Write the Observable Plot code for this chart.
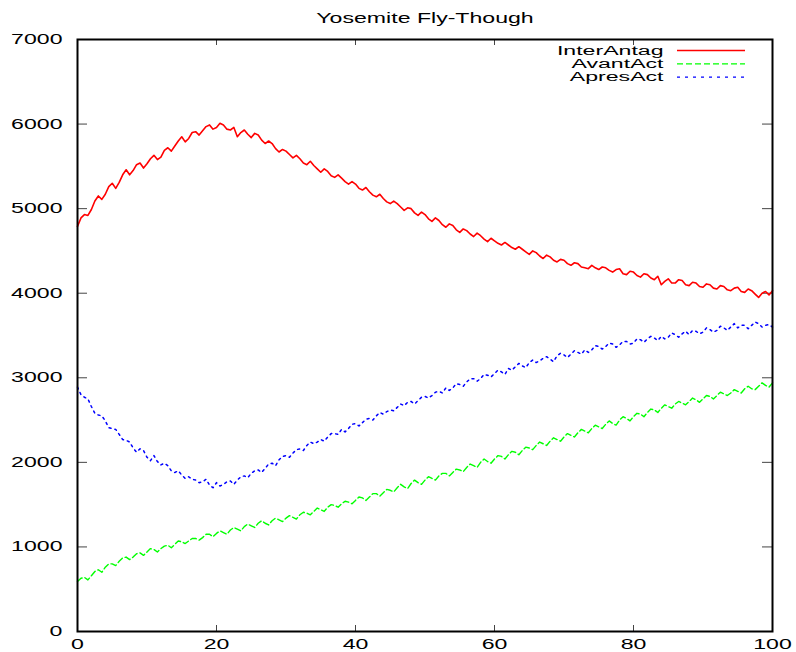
<!DOCTYPE html>
<html>
<head>
<meta charset="utf-8">
<script src="https://cdn.jsdelivr.net/npm/d3@7"></script>
<script src="https://cdn.jsdelivr.net/npm/@observablehq/plot@0.6"></script>
<style>
  body { margin: 0; background: #fff; }
  #chart svg { display: block; }
</style>
</head>
<body>
<div id="chart"></div>
<script>
const title = "Yosemite Fly-Though";
const seriesNames = ["InterAntag", "AvantAct", "ApresAct"];
const seriesColors = ["#ff0000", "#00ff00", "#0000ff"];
const seriesDash = [null, "6,3", "2,4"];
const seriesWidth = [1.6, 1.4, 1.5];

// sample positions along the x axis (whole units 0 .. 100)
const xValues = [
  0,1,2,3,4,5,6,7,8,9,10,11,12,13,14,15,16,17,18,19,
  20,21,22,23,24,25,26,27,28,29,30,31,32,33,34,35,36,37,38,39,
  40,41,42,43,44,45,46,47,48,49,50,51,52,53,54,55,56,57,58,59,
  60,61,62,63,64,65,66,67,68,69,70,71,72,73,74,75,76,77,78,79,
  80,81,82,83,84,85,86,87,88,89,90,91,92,93,94,95,96,97,98,99,100
];
// half-unit positions 0.5 .. 99.5
const xMid = xValues.slice(0, 100).map(x => x + 0.5);

// InterAntag at whole units
const interAntag = [
  4790, 4930, 4990, 5150, 5170, 5300, 5310, 5460, 5450, 5540,
  5530, 5630, 5610, 5720, 5740, 5850, 5830, 5910, 5920, 5990,
  5960, 5990, 5930, 5850, 5930, 5840, 5870, 5770, 5770, 5670,
  5680, 5600, 5590, 5520, 5510, 5430, 5440, 5370, 5360, 5290,
  5290, 5220, 5200, 5140, 5120, 5060, 5060, 4980, 5000, 4920,
  4930, 4850, 4860, 4780, 4800, 4720, 4740, 4670, 4680, 4610,
  4620, 4570, 4570, 4520, 4520, 4460, 4480, 4410, 4430, 4370,
  4390, 4330, 4350, 4300, 4330, 4280, 4300, 4250, 4290, 4220,
  4250, 4190, 4220, 4160, 4100, 4170, 4120, 4150, 4090, 4120,
  4070, 4100, 4050, 4080, 4030, 4070, 4010, 4030, 3950, 4020,
  4030
];
// InterAntag at half units
const interAntagMid = [
  4890, 4920, 5090, 5110, 5260, 5240, 5400, 5400, 5520, 5480,
  5590, 5580, 5690, 5680, 5800, 5790, 5900, 5870, 5970, 5940,
  6010, 5940, 5960, 5900, 5880, 5890, 5810, 5800, 5710, 5700,
  5640, 5630, 5540, 5560, 5470, 5470, 5390, 5400, 5320, 5320,
  5240, 5250, 5160, 5170, 5080, 5090, 5020, 5010, 4950, 4960,
  4880, 4890, 4810, 4820, 4750, 4760, 4700, 4710, 4640, 4650,
  4590, 4600, 4540, 4550, 4490, 4500, 4440, 4450, 4390, 4400,
  4350, 4360, 4310, 4290, 4300, 4310, 4270, 4280, 4230, 4260,
  4210, 4230, 4180, 4200, 4140, 4120, 4160, 4100, 4130, 4080,
  4110, 4060, 4090, 4040, 4060, 4020, 4050, 3990, 4000, 3980
];

// AvantAct at whole units
const avantAct = [
  590, 640, 660, 730, 760, 800, 830, 880, 880, 930,
  940, 970, 980, 1020, 1030, 1060, 1070, 1100, 1110, 1150,
  1160, 1170, 1200, 1210, 1240, 1250, 1280, 1280, 1310, 1320,
  1340, 1350, 1380, 1400, 1420, 1440, 1470, 1490, 1510, 1530,
  1550, 1580, 1590, 1630, 1640, 1670, 1700, 1710, 1750, 1760,
  1790, 1810, 1840, 1870, 1880, 1910, 1940, 1960, 2000, 2010,
  2040, 2070, 2090, 2120, 2140, 2170, 2200, 2220, 2250, 2270,
  2300, 2320, 2350, 2370, 2400, 2420, 2450, 2460, 2500, 2520,
  2540, 2570, 2590, 2620, 2640, 2660, 2690, 2700, 2720, 2740,
  2750, 2780, 2790, 2810, 2820, 2840, 2870, 2870, 2900, 2910,
  2940
];
// AvantAct at half units
const avantActMid = [
  630, 610, 710, 700, 800, 780, 870, 850, 920, 900,
  980, 940, 1010, 990, 1070, 1040, 1100, 1080, 1150, 1120,
  1190, 1150, 1230, 1190, 1270, 1230, 1310, 1260, 1340, 1300,
  1370, 1330, 1410, 1380, 1460, 1420, 1500, 1470, 1540, 1510,
  1590, 1550, 1630, 1600, 1680, 1650, 1740, 1690, 1790, 1740,
  1830, 1790, 1870, 1840, 1920, 1890, 1980, 1940, 2040, 1990,
  2080, 2040, 2130, 2090, 2180, 2150, 2240, 2200, 2290, 2250,
  2340, 2300, 2390, 2350, 2440, 2400, 2490, 2440, 2540, 2490,
  2580, 2540, 2630, 2590, 2680, 2640, 2720, 2680, 2760, 2710,
  2790, 2750, 2830, 2790, 2860, 2820, 2900, 2860, 2940, 2890
];

// ApresAct at whole units
const apresAct = [
  2890, 2770, 2660, 2560, 2490, 2400, 2330, 2260, 2170, 2160,
  2060, 2080, 1970, 1960, 1880, 1850, 1830, 1790, 1770, 1730,
  1760, 1740, 1780, 1790, 1840, 1870, 1910, 1930, 1990, 2030,
  2080, 2110, 2160, 2200, 2220, 2270, 2300, 2340, 2390, 2400,
  2460, 2470, 2520, 2550, 2570, 2620, 2650, 2670, 2720, 2730,
  2780, 2790, 2840, 2880, 2880, 2920, 2950, 2990, 2990, 3030,
  3050, 3070, 3110, 3130, 3140, 3180, 3180, 3230, 3220, 3260,
  3270, 3280, 3300, 3330, 3330, 3370, 3370, 3400, 3390, 3430,
  3410, 3450, 3460, 3470, 3490, 3480, 3510, 3520, 3510, 3550,
  3540, 3570, 3560, 3590, 3600, 3590, 3620, 3620, 3640, 3620,
  3600
];
// ApresAct at half units
const apresActMid = [
  2800, 2750, 2580, 2550, 2410, 2390, 2270, 2240, 2120, 2140,
  2020, 2010, 1990, 1900, 1900, 1810, 1800, 1760, 1800, 1700,
  1720, 1770, 1740, 1830, 1820, 1900, 1880, 1980, 1960, 2070,
  2060, 2150, 2140, 2240, 2240, 2250, 2340, 2330, 2360, 2450,
  2430, 2510, 2500, 2590, 2600, 2610, 2690, 2710, 2690, 2770,
  2760, 2830, 2820, 2850, 2930, 2900, 2990, 2960, 3040, 3010,
  3090, 3040, 3090, 3170, 3120, 3210, 3200, 3250, 3190, 3290,
  3240, 3320, 3280, 3300, 3380, 3340, 3410, 3360, 3430, 3400,
  3460, 3420, 3490, 3440, 3460, 3530, 3480, 3550, 3560, 3520,
  3590, 3540, 3610, 3560, 3640, 3620, 3580, 3660, 3600, 3630
];

const xTicks = [0, 20, 40, 60, 80, 100];
const yTicks = [0, 1000, 2000, 3000, 4000, 5000, 6000, 7000];

const seriesWhole = [interAntag, avantAct, apresAct];
const seriesHalf = [interAntagMid, avantActMid, apresActMid];
const rows = seriesWhole.map((vals, i) => {
  const r = vals.map((v, j) => ({ x: xValues[j], y: v, series: seriesNames[i] }))
    .concat(seriesHalf[i].map((v, j) => ({ x: xMid[j], y: v, series: seriesNames[i] })));
  return r.sort((a, b) => a.x - b.x);
});

const W = 796, H = 652;
const mL = 77, mR = 24, mT = 39, mB = 21;
const frameW = W - mL - mR, frameH = H - mT - mB;
const legendFont = 12;
const legendStep = 13.3;
const legendTop = 11.5;

const chart = Plot.plot({
  width: W,
  height: H,
  marginLeft: mL,
  marginRight: mR,
  marginTop: mT,
  marginBottom: mB,
  style: { fontFamily: "'Liberation Sans', Arial, Helvetica, sans-serif", fontSize: "14px", background: "#fff", color: "#000", overflow: "visible" },
  x: { domain: [0, 100], label: null },
  y: { domain: [0, 7000], label: null },
  marks: [
    // inward ticks, gnuplot style
    Plot.ruleY(yTicks, { stroke: "#444", strokeWidth: 1, insetRight: frameW - 10 }),
    Plot.ruleY(yTicks, { stroke: "#444", strokeWidth: 1, insetLeft: frameW - 10 }),
    Plot.ruleX(xTicks, { stroke: "#444", strokeWidth: 1, insetTop: frameH - 6 }),
    Plot.ruleX(xTicks, { stroke: "#444", strokeWidth: 1, insetBottom: frameH - 6 }),
    Plot.axisY({ ticks: yTicks, tickSize: 0, tickPadding: 15, tickFormat: d => String(d), fontSize: 14 }),
    Plot.axisX({ ticks: xTicks, tickSize: 0, tickPadding: 8, tickFormat: d => String(d), fontSize: 14 }),
    ...rows.map((r, i) => Plot.line(r, {
      x: "x", y: "y",
      stroke: seriesColors[i],
      strokeWidth: seriesWidth[i],
      strokeDasharray: seriesDash[i],
      curve: "linear"
    })),
    Plot.frame({ stroke: "#000", strokeWidth: 2 }),
    Plot.text([title], { text: d => d, frameAnchor: "top", lineAnchor: "middle", dy: -21, fontSize: 14, fill: "#000" }),
    ...seriesNames.map((name, i) => Plot.text([name], {
      text: d => d, frameAnchor: "top-right", textAnchor: "end", lineAnchor: "middle",
      dx: -109, dy: legendTop + i * legendStep, fontSize: legendFont, fill: "#000"
    }))
  ]
});

document.getElementById("chart").append(chart);

// legend line samples, placed relative to the frame
const xr = chart.scale("x").range;
const yr = chart.scale("y").range;
const frameTop = Math.min(yr[0], yr[1]);
const frameRight = Math.max(xr[0], xr[1]);
const lg = d3.select(chart).append("g").attr("class", "legend-lines");
seriesNames.forEach((name, i) => {
  const yy = frameTop + legendTop + i * legendStep;
  lg.append("line")
    .attr("x1", frameRight - 95).attr("x2", frameRight - 27)
    .attr("y1", yy).attr("y2", yy)
    .attr("stroke", seriesColors[i])
    .attr("stroke-width", 1.3)
    .attr("stroke-dasharray", i === 2 ? "3,5" : seriesDash[i]);
});

// gnuplot's bitmap font is horizontally stretched: widen every label
d3.select(chart).selectAll("text").each(function () {
  const t = this;
  if (t.querySelector("tspan")) return;
  const len = t.getComputedTextLength();
  const fs = parseFloat(getComputedStyle(t).fontSize) || 14;
  if (len > 0) {
    t.setAttribute("textLength", (len * 1.65 * 14 / fs).toFixed(1));
    t.setAttribute("lengthAdjust", "spacingAndGlyphs");
  }
});
</script>
</body>
</html>
